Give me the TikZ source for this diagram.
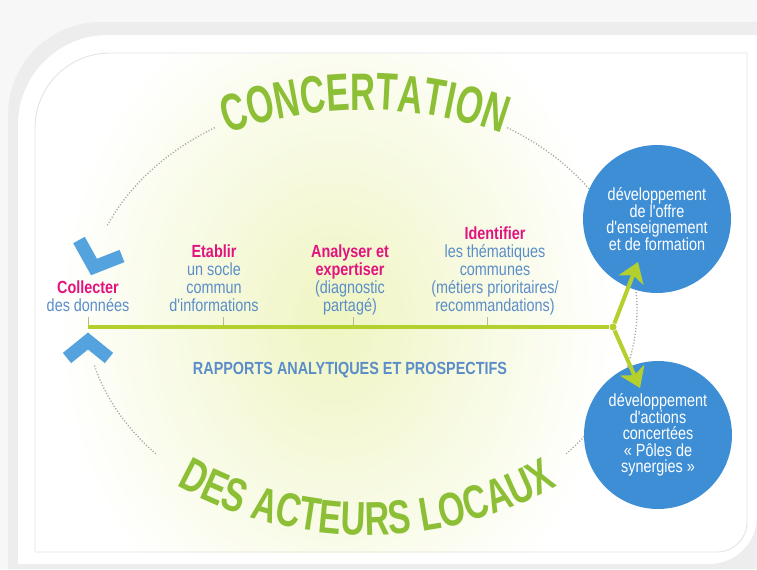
\documentclass[tikz,border=0pt]{standalone}
\usepackage{fontspec}
\setmainfont{Liberation Sans}
\newfontfamily\cnd[FakeStretch=0.82]{Liberation Sans}
\newfontfamily\bigcnd[FakeStretch=0.72]{Liberation Sans}
\newfontfamily\tallcnd[FakeStretch=0.66]{Liberation Sans}
\usetikzlibrary{arrows.meta,decorations.text}
\definecolor{cblue}{HTML}{3E8ED6}
\definecolor{chev}{HTML}{55A3DE}
\definecolor{ctext}{HTML}{5B8DC9}
\definecolor{cpink}{HTML}{E2137E}
\definecolor{clime}{HTML}{B4D02C}
\definecolor{cleaf}{HTML}{8DBF36}
\definecolor{glow}{HTML}{EFF5C2}
\newcommand{\verbe}[1]{\textcolor{cpink}{\bfseries #1}}

\begin{document}
\begin{tikzpicture}[x=0.02cm, y=0.02cm,
	lbl/.style={font=\cnd\fontsize{10}{10.2}\selectfont, text=ctext, align=center, inner sep=0, anchor=south, execute at end node=\strut},
	disc/.style={circle, fill=cblue, minimum size=2.96cm, inner sep=0, text=white, align=center, font=\cnd\fontsize{10}{9.4}\selectfont},
	ring/.style={gray!70, line width=0.8pt, dash pattern=on 0.6pt off 1.1pt},
	flow/.style={clime, line width=2.3pt},
	push/.style={flow, -{Stealth[length=11pt,width=15pt,inset=3pt]}},
	notch/.style={olive!45!gray!60, line width=0.5pt},
	chevron/.style={chev, line width=7.5pt, line join=miter}]
		\useasboundingbox (0,0) rectangle (757,-569);
		% frame
		\fill[gray!6] (0,0) rectangle (757,-569);
		\fill[gray!14] (8,-569) -- (8,-115) arc[start angle=180, end angle=90, radius=93] -- (757,-22) -- (757,-569) -- cycle;
		\fill[white] (18,-564) -- (18,-125) arc[start angle=180, end angle=90, radius=90] -- (757,-35) -- (757,-516) arc[start angle=0, end angle=-90, radius=48] -- cycle;
		\begin{scope}
			\clip (35,-53) rectangle (747,-552);
			\shade[inner color=glow, outer color=white] (335,-320) ellipse[x radius=280, y radius=340];
		\end{scope}
		\draw[gray!22, line width=0.5pt] (35,-552) -- (35,-128) arc[start angle=180, end angle=90, radius=75] -- (747,-53) -- (747,-522) arc[start angle=0, end angle=-90, radius=30] -- cycle;

		% dotted ring
		\coordinate (hub) at (361,-310);
		\draw[ring] (hub) ++(122:276 and 215) arc[start angle=122, end angle=157, x radius=276, y radius=215];
		\draw[ring] (hub) ++(58:276 and 215) arc[start angle=58, end angle=-42, x radius=276, y radius=215];
		\draw[ring] (hub) ++(195:276 and 215) arc[start angle=195, end angle=222, x radius=276, y radius=215];

		% outcomes
		\node[disc] (offre) at (657,-219) {développement\\de l'offre\\d'enseignement\\et de formation};
		\node[disc] (actions) at (658,-435) {développement\\d'actions\\concertées\\«~Pôles de\\synergies~»};

		% time line
		\foreach \x in {88,223,353,487}
			\draw[notch] (\x,-327) -- (\x,-317);
		\coordinate (start) at (88,-327);
		\node[circle, fill=clime, inner sep=0, minimum size=0.14cm] (junc) at (613,-327) {};
		\draw[flow] (start) -- (junc);
		\coordinate (upTip) at (638,-262);
		\coordinate (downTip) at (640,-388);
		\draw[push] (junc) -- (upTip);
		\draw[push] (junc) -- (downTip);

		\draw[chevron] (79,-240) -- (94,-267) -- (122,-256);
		\draw[chevron] (67,-358) -- (88,-341) -- (109,-358);

		\node[lbl] (collect) at (88,-317) {\verbe{Collecter}\\des données};
		\node[lbl] (etablir) at (214,-317) {\verbe{Etablir}\\un socle\\commun\\d'informations};
		\node[lbl] (analyser) at (350,-317) {\verbe{Analyser et}\\\verbe{expertiser}\\(diagnostic\\partagé)};
		\node[lbl] (identifier) at (495,-317) {\verbe{Identifier}\\les thématiques\\communes\\(métiers prioritaires/\\recommandations)};
		\node[font=\cnd\bfseries\fontsize{10}{12}\selectfont, text=ctext] (rapports) at (350,-370) {RAPPORTS ANALYTIQUES ET PROSPECTIFS};

		% arched titles
		\path[decorate, decoration={text along path, text align=center, text color=cleaf,
			text={|\tallcnd\bfseries\fontsize{30}{30}\selectfont|CONCERTATION}}]
			(103.4,-205.2) arc[start angle=130, end angle=50, radius=407];
		\path[decorate, decoration={text along path, text align=center, text color=cleaf,
			text={|\bigcnd\bfseries\fontsize{27}{27}\selectfont|DES ACTEURS LOCAUX}}]
			(26.7,-338.5) arc[start angle=-150, end angle=-30, radius=393];
	\end{tikzpicture}
\end{document}
